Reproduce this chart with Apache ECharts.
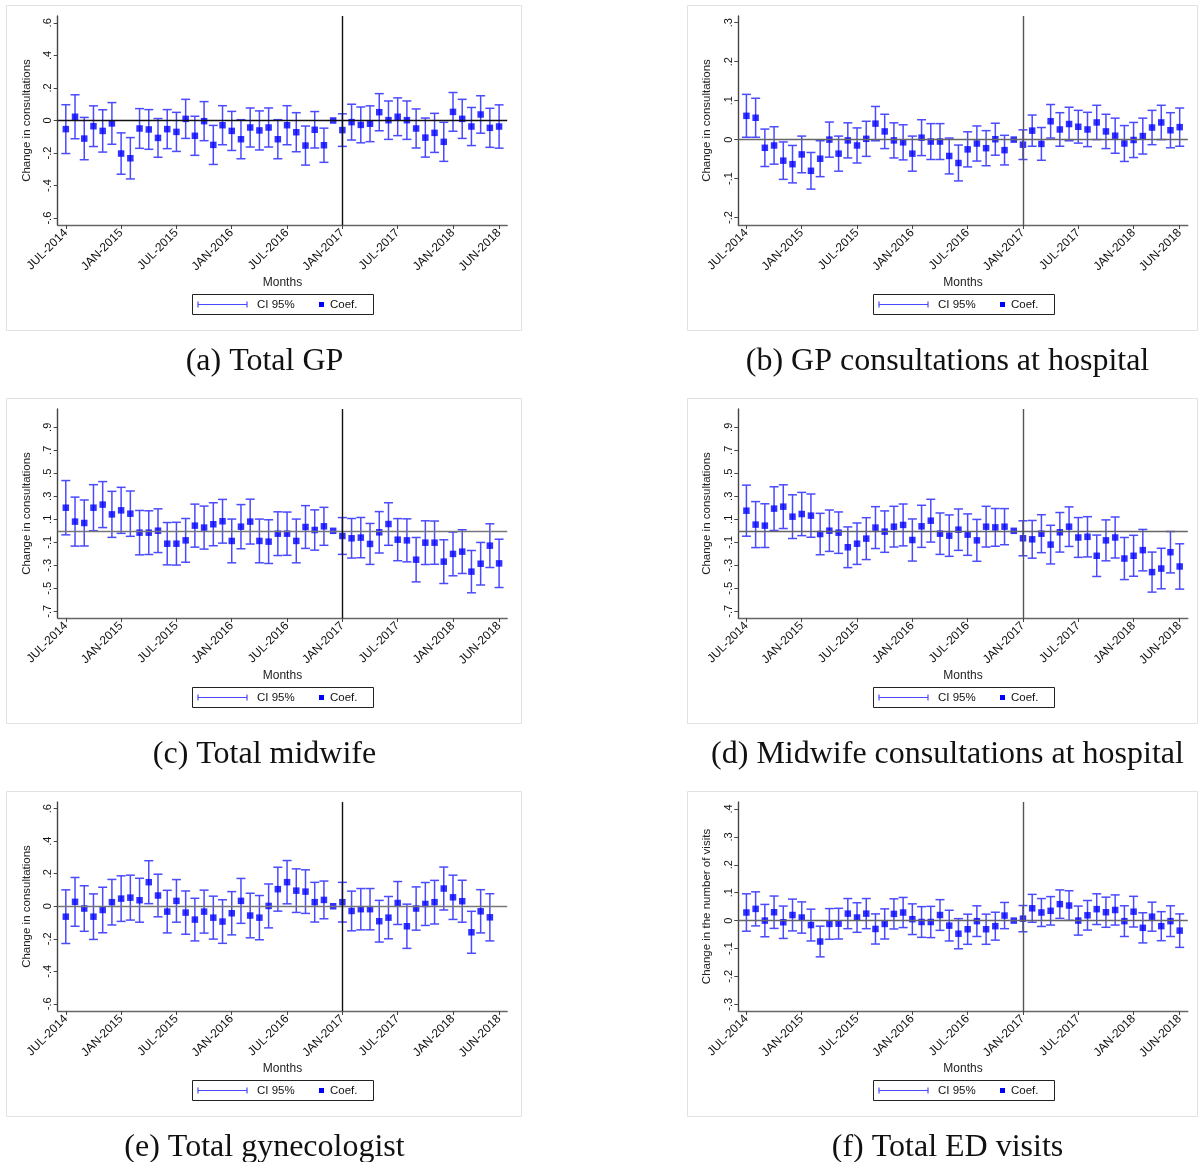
<!DOCTYPE html>
<html><head><meta charset="utf-8">
<script src="https://cdn.jsdelivr.net/npm/echarts@6/dist/echarts.min.js"></script>
<style>html,body{margin:0;padding:0;background:#fff}#c{width:1198px;height:1162px}</style>
</head><body><div id="c"></div>
<script>
// ---- x-axis tick labels (month index 0 = JUL-2014 ... 47 = JUN-2018)
const tickIdx = [0, 6, 12, 18, 24, 30, 36, 42, 47];
const tickLabels = ['JUL-2014','JAN-2015','JUL-2015','JAN-2016','JUL-2016','JAN-2017','JUL-2017','JAN-2018','JUN-2018'];
const policyMonth = 30; // JAN-2017

// ---- y-axis tick values
const yTicksWide = [-0.6, -0.4, -0.2, 0, 0.2, 0.4, 0.6];
const yTicksGPHosp = [-0.2, -0.1, 0, 0.1, 0.2, 0.3];
const yTicksMidwife = [-0.7, -0.5, -0.3, -0.1, 0.1, 0.3, 0.5, 0.7, 0.9];
const yTicksED = [-0.3, -0.2, -0.1, 0, 0.1, 0.2, 0.3, 0.4];

// ---- (a) Total GP
const totalGPCoef = [-0.053,0.023,-0.111,-0.035,-0.064,-0.018,-0.203,-0.232,-0.049,-0.055,-0.107,-0.053,-0.070,0.010,-0.094,-0.004,-0.150,-0.029,-0.064,-0.115,-0.043,-0.061,
  -0.043,-0.115,-0.029,-0.072,-0.154,-0.057,-0.152,0,-0.059,-0.010,-0.027,-0.020,0.051,0.002,0.023,0.002,-0.049,-0.105,-0.076,-0.131,0.053,0.010,-0.037,0.037,-0.045,-0.037];
const totalGPCI = [0.15,0.135,0.13,0.125,0.13,0.128,0.127,0.127,0.122,0.122,0.119,0.12,0.12,0.12,0.12,0.12,0.12,0.12,0.12,0.12,0.12,0.12,
  0.12,0.12,0.12,0.12,0.12,0.112,0.105,0,0.10,0.11,0.11,0.11,0.114,0.118,0.116,0.118,0.12,0.12,0.12,0.12,0.119,0.12,0.117,0.115,0.12,0.133];

// ---- (b) GP consultations at hospital
const gpHospCoef = [0.061,0.056,-0.021,-0.015,-0.054,-0.063,-0.038,-0.080,-0.049,0.000,-0.036,-0.002,-0.015,0.002,0.041,0.021,-0.002,-0.007,-0.036,0.005,-0.005,-0.005,
  -0.042,-0.060,-0.025,-0.010,-0.022,0.001,-0.027,0,-0.013,0.023,-0.011,0.047,0.026,0.040,0.033,0.026,0.044,0.021,0.010,-0.010,-0.001,0.009,0.031,0.044,0.024,0.032];
const gpHospCI = [0.055,0.05,0.048,0.048,0.048,0.048,0.047,0.047,0.046,0.045,0.045,0.045,0.045,0.045,0.044,0.044,0.045,0.045,0.045,0.046,0.046,0.046,
  0.046,0.046,0.045,0.045,0.045,0.041,0.038,0,0.038,0.04,0.042,0.043,0.043,0.043,0.042,0.044,0.044,0.044,0.045,0.046,0.045,0.046,0.044,0.044,0.045,0.049];

// ---- (c) Total midwife
const midwifeCoef = [0.201,0.080,0.068,0.201,0.228,0.143,0.178,0.149,-0.016,-0.016,0.001,-0.112,-0.112,-0.083,0.045,0.028,0.057,0.083,-0.088,0.036,0.080,-0.088,
  -0.094,-0.025,-0.025,-0.088,0.033,0.007,0.039,0,-0.045,-0.065,-0.059,-0.114,-0.013,0.059,-0.077,-0.083,-0.251,-0.103,-0.103,-0.268,-0.201,-0.181,-0.355,-0.286,-0.129,-0.283];
const midwifeCI = [0.236,0.213,0.2,0.2,0.2,0.2,0.2,0.197,0.193,0.19,0.19,0.184,0.186,0.19,0.187,0.187,0.187,0.19,0.19,0.192,0.195,0.19,
  0.19,0.19,0.188,0.19,0.186,0.175,0.165,0,0.16,0.172,0.175,0.178,0.18,0.185,0.183,0.187,0.193,0.19,0.188,0.19,0.19,0.19,0.184,0.185,0.19,0.21];

// ---- (d) Midwife consultations at hospital
const midwifeHospCoef = [0.175,0.054,0.045,0.193,0.210,0.123,0.146,0.132,-0.028,0.001,-0.016,-0.143,-0.112,-0.068,0.028,-0.007,0.036,0.051,-0.080,0.039,0.088,-0.025,
  -0.042,0.010,-0.033,-0.083,0.036,0.030,0.036,0,-0.065,-0.074,-0.025,-0.120,-0.013,0.036,-0.058,-0.052,-0.217,-0.083,-0.058,-0.241,-0.217,-0.168,-0.359,-0.328,-0.186,-0.310];
const midwifeHospCI = [0.222,0.2,0.19,0.19,0.19,0.19,0.188,0.188,0.18,0.18,0.18,0.177,0.18,0.182,0.182,0.18,0.177,0.182,0.183,0.183,0.186,0.18,
  0.18,0.18,0.18,0.182,0.177,0.164,0.157,0,0.152,0.164,0.165,0.168,0.172,0.172,0.173,0.175,0.18,0.178,0.178,0.183,0.178,0.18,0.174,0.176,0.18,0.197];

// ---- (e) Total gynecologist
const gynCoef = [-0.064,0.027,-0.014,-0.064,-0.023,0.025,0.047,0.053,0.037,0.148,0.066,-0.033,0.033,-0.039,-0.082,-0.033,-0.070,-0.094,-0.043,0.033,-0.057,-0.070,
  0.002,0.105,0.148,0.096,0.090,0.025,0.039,0,0.025,-0.029,-0.018,-0.018,-0.092,-0.070,0.020,-0.123,-0.014,0.014,0.025,0.109,0.055,0.031,-0.160,-0.031,-0.068,null];
const gynCI = [0.165,0.15,0.14,0.14,0.14,0.14,0.14,0.138,0.135,0.132,0.131,0.131,0.131,0.133,0.131,0.132,0.132,0.134,0.133,0.138,0.137,0.136,
  0.135,0.135,0.133,0.134,0.134,0.122,0.116,0,0.122,0.122,0.127,0.127,0.128,0.13,0.132,0.136,0.133,0.132,0.134,0.132,0.136,0.129,0.129,0.133,0.145,null];

// ---- (f) Total ED visits
const edCoef = [0.029,0.042,0.000,0.030,-0.006,0.020,0.011,-0.016,-0.075,-0.012,-0.011,0.025,0.011,0.025,-0.030,-0.012,0.024,0.029,0.005,-0.005,-0.005,0.020,
  -0.018,-0.047,-0.031,-0.002,-0.031,-0.020,0.018,0,0.007,0.044,0.029,0.035,0.059,0.054,0.000,0.019,0.041,0.030,0.038,-0.002,0.032,-0.026,0.014,-0.020,-0.002,-0.036];
const edCI = [0.067,0.061,0.058,0.058,0.058,0.057,0.056,0.057,0.055,0.055,0.055,0.054,0.053,0.054,0.054,0.054,0.054,0.054,0.055,0.055,0.056,0.055,
  0.055,0.054,0.054,0.055,0.054,0.05,0.047,0,0.047,0.05,0.05,0.051,0.051,0.053,0.052,0.053,0.055,0.054,0.054,0.055,0.055,0.054,0.052,0.052,0.055,0.06];

// ---- panel definitions (layout/style only)
const panels = [
  {caption:'(a) Total GP', coef:totalGPCoef, ci:totalGPCI, yName:'Change in consultations', ticks:yTicksWide, min:-0.642, max:0.642, col:0, row:0, zeroColor:'#111', vColor:'#111'},
  {caption:'(b) GP consultations at hospital', coef:gpHospCoef, ci:gpHospCI, yName:'Change in consultations', ticks:yTicksGPHosp, min:-0.219, max:0.317, col:1, row:0, zeroColor:'#666', vColor:'#555'},
  {caption:'(c) Total midwife', coef:midwifeCoef, ci:midwifeCI, yName:'Change in consultations', ticks:yTicksMidwife, min:-0.758, max:1.059, col:0, row:1, zeroColor:'#777', vColor:'#111'},
  {caption:'(d) Midwife consultations at hospital', coef:midwifeHospCoef, ci:midwifeHospCI, yName:'Change in consultations', ticks:yTicksMidwife, min:-0.758, max:1.059, col:1, row:1, zeroColor:'#666', vColor:'#555'},
  {caption:'(e) Total gynecologist', coef:gynCoef, ci:gynCI, yName:'Change in consultations', ticks:yTicksWide, min:-0.644, max:0.641, col:0, row:2, zeroColor:'#777', vColor:'#111'},
  {caption:'(f) Total ED visits', coef:edCoef, ci:edCI, yName:'Change in the number of visits', ticks:yTicksED, min:-0.324, max:0.425, col:1, row:2, zeroColor:'#666', vColor:'#555'}
];

const boxLeft = [6, 687], boxRight = [521, 1197];
const captionCenter = [259.5, 942.5];
const boxTop = [5, 398, 791];
const gridLeft = [57.7, 738.3], gridW = 449.5, gridH = 209;
const FONT = 'Liberation Sans, Arial, sans-serif';
const ciColor = '#4a4aff';

function fmtY(v) {
  if (Math.abs(v) < 1e-9) return '0';
  let s = (+v.toFixed(2)).toString();
  return s.replace('0.', '.');
}

const grids = [], xAxes = [], yAxes = [], series = [], titles = [], graphics = [];
panels.forEach((p, i) => {
  const gl = gridLeft[p.col], gt = boxTop[p.row] + 11;
  grids.push({left: gl, top: gt, width: gridW, height: gridH, containLabel: false});
  xAxes.push({
    type: 'value', gridIndex: i, min: -0.88, max: 47.88, position: 'bottom',
    name: 'Months', nameLocation: 'middle', nameGap: 51,
    nameTextStyle: {fontFamily: FONT, fontSize: 12, color: '#222'},
    axisLine: {show: true, onZero: false, lineStyle: {color: '#666', width: 1.4}},
    axisTick: {show: true, length: 4, customValues: tickIdx, lineStyle: {color: '#444'}},
    axisLabel: {customValues: tickIdx, rotate: 45, margin: 6, fontFamily: FONT, fontSize: 12, color: '#111',
      formatter: v => tickLabels[tickIdx.indexOf(Math.round(v))] || ''},
    splitLine: {show: false}
  });
  yAxes.push({
    type: 'value', gridIndex: i, min: p.min, max: p.max, position: 'left',
    name: p.yName, nameLocation: 'middle', nameGap: 25, nameRotate: 90,
    nameTextStyle: {fontFamily: FONT, fontSize: 11.5, color: '#222'},
    axisLine: {show: true, onZero: false, lineStyle: {color: '#444', width: 1.4}},
    axisTick: {show: true, length: 4, customValues: p.ticks, lineStyle: {color: '#444'}},
    axisLabel: {customValues: p.ticks, rotate: 90, margin: 4, fontFamily: FONT, fontSize: 11, color: '#111', formatter: fmtY},
    splitLine: {show: false}
  });
  const ciData = [];
  p.coef.forEach((c, k) => { if (c != null && p.ci[k] > 0) ciData.push([k, c - p.ci[k], c + p.ci[k]]); });
  const ptData = [];
  p.coef.forEach((c, k) => { if (c != null) ptData.push([k, c]); });
  series.push({
    type: 'custom', name: 'CI 95%', xAxisIndex: i, yAxisIndex: i, z: 2, silent: true,
    data: ciData,
    renderItem: function (params, api) {
      const x = api.value(0), lo = api.value(1), hi = api.value(2);
      const a = api.coord([x, hi]), b = api.coord([x, lo]);
      const cw = 4.5;
      const st = {stroke: ciColor, lineWidth: 1.5};
      return {type: 'group', children: [
        {type: 'line', shape: {x1: a[0], y1: a[1], x2: b[0], y2: b[1]}, style: st},
        {type: 'line', shape: {x1: a[0] - cw, y1: a[1], x2: a[0] + cw, y2: a[1]}, style: st},
        {type: 'line', shape: {x1: b[0] - cw, y1: b[1], x2: b[0] + cw, y2: b[1]}, style: st}
      ]};
    },
    markLine: {
      silent: true, symbol: 'none', label: {show: false}, animation: false,
      data: [
        {yAxis: 0, lineStyle: {color: p.zeroColor, width: 1.4, type: 'solid'}},
        {xAxis: policyMonth, lineStyle: {color: p.vColor, width: 1.4, type: 'solid'}}
      ]
    }
  });
  series.push({
    type: 'scatter', name: 'Coef.', xAxisIndex: i, yAxisIndex: i, z: 4, silent: true,
    symbol: 'rect', symbolSize: 6.5, itemStyle: {color: '#0000ff'}, data: ptData
  });
  // caption
  titles.push({text: p.caption, left: captionCenter[p.col], top: boxTop[p.row] + 336, textAlign: 'center',
    textStyle: {fontFamily: 'Liberation Serif, Times New Roman, serif', fontWeight: 'normal', fontSize: 32, color: '#111'}});
  // panel frame
  graphics.push({type: 'rect', silent: true, shape: {x: boxLeft[p.col] + 0.5, y: boxTop[p.row] + 0.5, width: boxRight[p.col] - boxLeft[p.col], height: 325},
    style: {fill: 'none', stroke: '#e2e2e2', lineWidth: 1}});
  // legend
  const L = Math.round(gl + gridW / 2 - 90.5), T = boxTop[p.row] + 289;
  graphics.push({type: 'rect', silent: true, shape: {x: L + 0.5, y: T + 0.5, width: 181, height: 20}, style: {fill: '#fff', stroke: '#222', lineWidth: 1}});
  graphics.push({type: 'line', silent: true, shape: {x1: L + 6, y1: T + 10.5, x2: L + 55, y2: T + 10.5}, style: {stroke: ciColor, lineWidth: 1.2}});
  graphics.push({type: 'line', silent: true, shape: {x1: L + 6, y1: T + 7.5, x2: L + 6, y2: T + 13.5}, style: {stroke: ciColor, lineWidth: 1.2}});
  graphics.push({type: 'line', silent: true, shape: {x1: L + 55, y1: T + 7.5, x2: L + 55, y2: T + 13.5}, style: {stroke: ciColor, lineWidth: 1.2}});
  graphics.push({type: 'text', silent: true, x: L + 65, y: T + 10.5, style: {text: 'CI 95%', fontFamily: FONT, fontSize: 11.5, fill: '#111', verticalAlign: 'middle'}});
  graphics.push({type: 'rect', silent: true, shape: {x: L + 127, y: T + 8, width: 5, height: 5}, style: {fill: '#0000ff'}});
  graphics.push({type: 'text', silent: true, x: L + 138, y: T + 10.5, style: {text: 'Coef.', fontFamily: FONT, fontSize: 11.5, fill: '#111', verticalAlign: 'middle'}});
});

const chart = echarts.init(document.getElementById('c'), null, {renderer: 'canvas'});
chart.setOption({
  animation: false,
  backgroundColor: '#fff',
  title: titles,
  grid: grids,
  xAxis: xAxes,
  yAxis: yAxes,
  series: series,
  graphic: graphics
});
</script>
</body></html>
